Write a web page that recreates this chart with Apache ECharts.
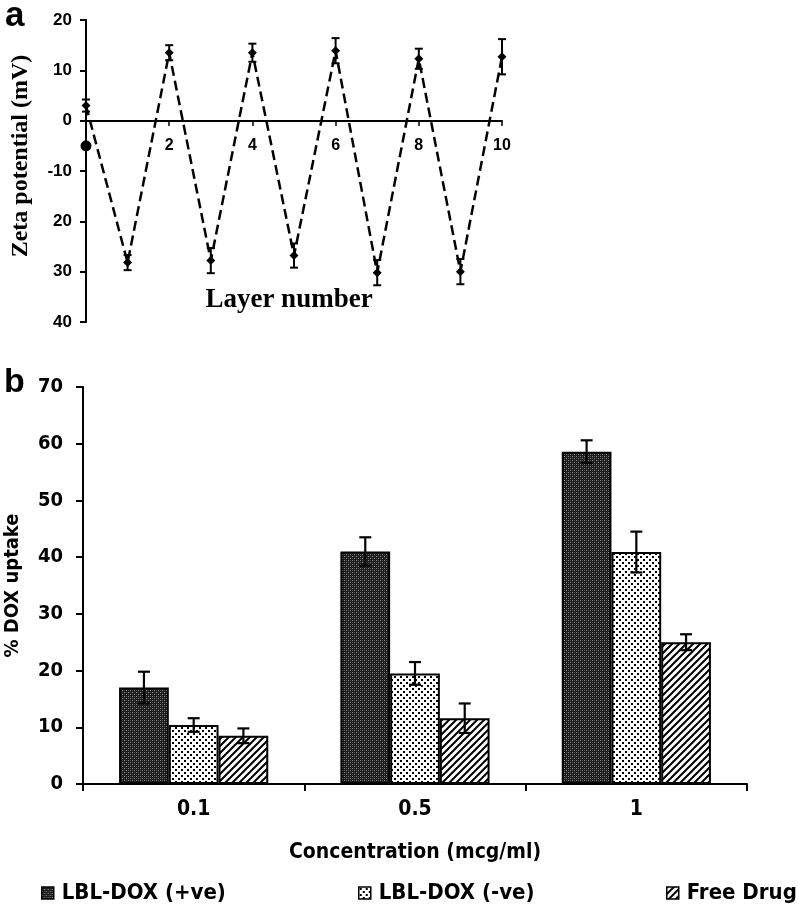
<!DOCTYPE html>
<html>
<head>
<meta charset="utf-8">
<script src="https://cdn.jsdelivr.net/npm/echarts@6/dist/echarts.min.js"></script>
<style>
html,body{margin:0;padding:0;background:#fff;}
#chart{width:799px;height:905px;}
</style>
</head>
<body>
<div id="chart"></div>
<script>
// ---------- Panel a data ----------
const layerNumbers = [0, 1, 2, 3, 4, 5, 6, 7, 8, 9, 10];
const zetaValues   = [3, -28.2, 13.5, -27.8, 13.5, -26.8, 13.9, -30.2, 12.3, -30, 12.7];
const zetaErrors   = [1.2, 1.5, 1.5, 2.5, 1.8, 2.4, 2.5, 2.5, 2, 2.5, 3.5];
const initialDot   = [[0, -5]];
const zetaTickValues = [-40, -30, -20, -10, 0, 10, 20];
const zetaTickTexts  = ['40', '30', '20', '-10', '0', '10', '20'];
const layerTickValues = [0, 2, 4, 6, 8, 10];
const layerTickTexts  = ['', '2', '4', '6', '8', '10'];

// ---------- Panel b data ----------
const concentrations = ['0.1', '0.5', '1'];
const seriesNames = ['LBL-DOX (+ve)', 'LBL-DOX (-ve)', 'Free Drug'];
const uptakePos  = [17, 41, 58.6];
const uptakeNeg  = [10.4, 19.5, 40.9];
const uptakeFree = [8.5, 11.6, 25];
const errPos  = [2.8, 2.5, 2];
const errNeg  = [1.2, 2, 3.6];
const errFree = [1.3, 2.6, 1.4];

// ---------- patterns ----------
function makeCanvas(w, h, draw) {
  const c = document.createElement('canvas');
  c.width = w; c.height = h;
  const ctx = c.getContext('2d');
  draw(ctx);
  return c;
}
const patDark = makeCanvas(4, 4, ctx => {
  ctx.fillStyle = '#1c1c1c'; ctx.fillRect(0, 0, 4, 4);
  ctx.fillStyle = '#8a8a8a'; ctx.fillRect(0, 0, 1, 1); ctx.fillRect(2, 2, 1, 1);
  ctx.fillStyle = '#505050'; ctx.fillRect(2, 0, 1, 1); ctx.fillRect(0, 2, 1, 1);
});
const patDots = makeCanvas(6, 6, ctx => {
  ctx.fillStyle = '#ffffff'; ctx.fillRect(0, 0, 6, 6);
  ctx.fillStyle = '#000000'; ctx.fillRect(1, 1, 2, 2); ctx.fillRect(4, 4, 2, 2);
});
const patHatch = makeCanvas(7, 7, ctx => {
  ctx.fillStyle = '#ffffff'; ctx.fillRect(0, 0, 7, 7);
  ctx.strokeStyle = '#000000'; ctx.lineWidth = 2;
  ctx.beginPath();
  ctx.moveTo(-1, 8); ctx.lineTo(8, -1);
  ctx.moveTo(-8, 8); ctx.lineTo(1, -1);
  ctx.moveTo(6, 8); ctx.lineTo(15, -1);
  ctx.stroke();
});
const patterns = [patDark, patDots, patHatch];

const chart = echarts.init(document.getElementById('chart'), null, {renderer: 'canvas'});

const condFont = "'DejaVu Sans Condensed', 'Liberation Sans Narrow', sans-serif";

// error bar data panel a
const zetaErrData = layerNumbers.map((x, i) => [x, zetaValues[i] - zetaErrors[i], zetaValues[i] + zetaErrors[i]]);

// error bar data panel b
const barVals = [uptakePos, uptakeNeg, uptakeFree];
const barErrs = [errPos, errNeg, errFree];
const barErrData = [];
barVals.forEach((vals, s) => {
  vals.forEach((v, c) => {
    barErrData.push([c, v - barErrs[s][c], v + barErrs[s][c], s]);
  });
});
const catGap = 0.326;

function errRenderA(params, api) {
  const x = api.value(0);
  const lo = api.coord([x, api.value(1)]);
  const hi = api.coord([x, api.value(2)]);
  const hw = 4;
  const st = {stroke: '#000', lineWidth: 2};
  return {type: 'group', children: [
    {type: 'line', shape: {x1: lo[0], y1: lo[1], x2: hi[0], y2: hi[1]}, style: st},
    {type: 'line', shape: {x1: lo[0] - hw, y1: lo[1], x2: lo[0] + hw, y2: lo[1]}, style: st},
    {type: 'line', shape: {x1: hi[0] - hw, y1: hi[1], x2: hi[0] + hw, y2: hi[1]}, style: st}
  ]};
}
function errRenderB(params, api) {
  const c = api.value(0), s = api.value(3);
  const band = api.size([1, 0])[0];
  const bw = band * (1 - catGap) / 3;
  const lo = api.coord([c, api.value(1)]);
  const hi = api.coord([c, api.value(2)]);
  const x = lo[0] + (s - 1) * bw;
  const hw = 6;
  const st = {stroke: '#000', lineWidth: 2.2};
  return {type: 'group', children: [
    {type: 'line', shape: {x1: x, y1: lo[1], x2: x, y2: hi[1]}, style: st},
    {type: 'line', shape: {x1: x - hw, y1: lo[1], x2: x + hw, y2: lo[1]}, style: st},
    {type: 'line', shape: {x1: x - hw, y1: hi[1], x2: x + hw, y2: hi[1]}, style: st}
  ]};
}

const legends = [36, 353, 661].map((left, i) => ({
  left: left, top: 877,
  data: [seriesNames[i]],
  itemWidth: 12, itemHeight: 12,
  icon: 'rect',
  itemStyle: {borderColor: '#000', borderWidth: 1.5},
  textStyle: {fontFamily: condFont, fontWeight: 'bold', fontSize: 22, color: '#000', padding: [0, 0, 0, 3]},
  selectedMode: false
}));

const option = {
  animation: false,
  backgroundColor: '#fff',
  title: [
    {text: 'a', left: 0, top: -6, textStyle: {fontFamily: 'Liberation Sans, Arial, sans-serif', fontWeight: 'bold', fontSize: 35, color: '#000'}},
    {text: 'b', left: -1, top: 361, textStyle: {fontFamily: 'Liberation Sans, Arial, sans-serif', fontWeight: 'bold', fontSize: 34, color: '#000'}}
  ],
  legend: legends,
  grid: [
    {left: 86, right: 297, top: 20, bottom: 583, containLabel: false, outerBoundsMode: 'none'},
    {left: 83, right: 52, top: 387, bottom: 121, containLabel: false, outerBoundsMode: 'none'}
  ],
  xAxis: [
    {
      type: 'value', gridIndex: 0, min: 0, max: 10, interval: 2,
      offset: -201,
      axisLine: {onZero: false, lineStyle: {color: '#000', width: 2}},
      axisTick: {show: true, inside: false, length: 5, lineStyle: {color: '#000', width: 1.5}},
      axisLabel: {
        margin: 17, color: '#000', fontFamily: 'Liberation Sans, Arial, sans-serif', fontWeight: 'bold', fontSize: 16,
        formatter: v => { const k = layerTickValues.indexOf(v); return k >= 0 ? layerTickTexts[k] : ''; }
      },
      splitLine: {show: false}
    },
    {
      type: 'category', gridIndex: 1, data: concentrations,
      axisLine: {lineStyle: {color: '#000', width: 2}},
      axisTick: {show: true, length: 7, lineStyle: {color: '#000', width: 2}},
      axisLabel: {margin: 15, color: '#000', fontFamily: condFont, fontWeight: 'bold', fontSize: 21},
      name: 'Concentration (mcg/ml)', nameLocation: 'middle', nameGap: 58,
      nameTextStyle: {color: '#000', fontFamily: condFont, fontWeight: 'bold', fontSize: 21}
    }
  ],
  yAxis: [
    {
      type: 'value', gridIndex: 0, min: -40, max: 20, interval: 10,
      axisLine: {show: true, onZero: false, lineStyle: {color: '#000', width: 2}},
      axisTick: {show: true, length: 6, lineStyle: {color: '#000', width: 2}},
      axisLabel: {
        margin: 14, color: '#000', fontFamily: 'Liberation Sans, Arial, sans-serif', fontWeight: 'bold', fontSize: 17,
        formatter: v => { const k = zetaTickValues.indexOf(v); return k >= 0 ? zetaTickTexts[k] : ''; }
      },
      splitLine: {show: false}
    },
    {
      type: 'value', gridIndex: 1, min: 0, max: 70, interval: 10,
      axisLine: {show: true, lineStyle: {color: '#000', width: 2}},
      axisTick: {show: true, length: 7, lineStyle: {color: '#000', width: 2}},
      axisLabel: {margin: 20, color: '#000', fontFamily: condFont, fontWeight: 'bold', fontSize: 20},
      splitLine: {show: false},
      name: '% DOX uptake', nameLocation: 'middle', nameGap: 60, nameRotate: 90,
      nameTextStyle: {color: '#000', fontFamily: condFont, fontWeight: 'bold', fontSize: 20}
    }
  ],
  graphic: [
    {type: 'text', x: 21, y: 156, rotation: Math.PI / 2,
      style: {text: 'Zeta potential (mV)', fill: '#000', font: "bold 24px 'Liberation Serif', 'Times New Roman', serif", textAlign: 'center', textVerticalAlign: 'middle'}},
    {type: 'text', x: 289, y: 300,
      style: {text: 'Layer number', fill: '#000', font: "bold 27px 'Liberation Serif', 'Times New Roman', serif", textAlign: 'center', textVerticalAlign: 'middle'}}
  ],
  series: [
    {
      type: 'line', xAxisIndex: 0, yAxisIndex: 0,
      data: layerNumbers.map((x, i) => [x, zetaValues[i]]),
      symbol: 'diamond', symbolSize: 9, showAllSymbol: true,
      lineStyle: {color: '#000', width: 2.5, type: [10, 5]},
      itemStyle: {color: '#000'},
      z: 3
    },
    {
      type: 'custom', xAxisIndex: 0, yAxisIndex: 0,
      renderItem: errRenderA, data: zetaErrData, z: 4
    },
    {
      type: 'scatter', xAxisIndex: 0, yAxisIndex: 0,
      data: initialDot, symbol: 'circle', symbolSize: 11,
      itemStyle: {color: '#000', opacity: 1}, z: 5
    },
    ...barVals.map((vals, s) => ({
      type: 'bar', name: seriesNames[s], xAxisIndex: 1, yAxisIndex: 1,
      data: vals,
      barGap: '0%', barCategoryGap: (catGap * 100) + '%',
      itemStyle: {color: {image: patterns[s], repeat: 'repeat'}, borderColor: '#000', borderWidth: 2},
      z: 2
    })),
    {
      type: 'custom', xAxisIndex: 1, yAxisIndex: 1,
      renderItem: errRenderB, data: barErrData, z: 6
    }
  ]
};
chart.setOption(option);
</script>
</body>
</html>
